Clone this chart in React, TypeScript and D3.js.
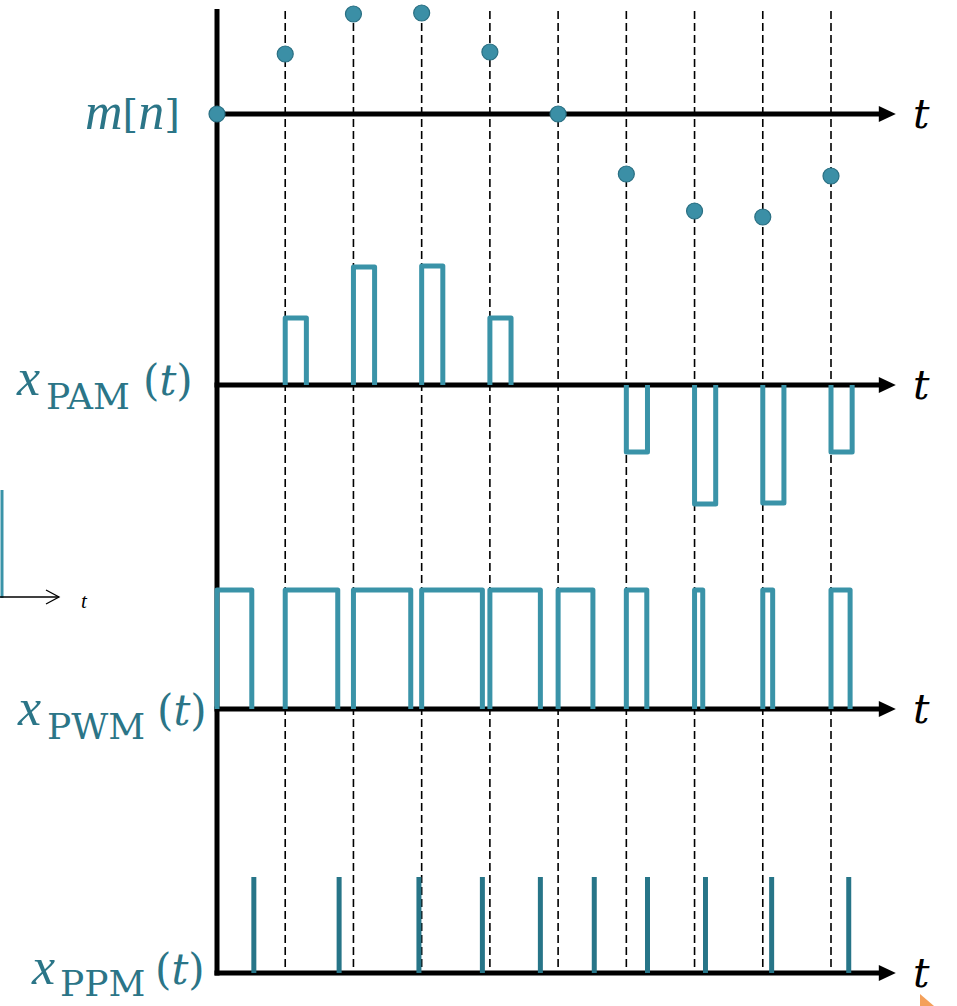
import React from 'react';
import * as d3 from 'd3';

// sample index n (one dashed line per sample)
const sampleIndex = [0, 1, 2, 3, 4, 5, 6, 7, 8, 9];
// message samples m[n]
const mValues = [0, 0.6, 1.0, 1.01, 0.62, 0, -0.6, -0.97, -1.03, -0.62];
// PAM pulse heights
const pamValues = [0, 0.67, 1.18, 1.19, 0.67, 0, -0.67, -1.19, -1.18, -0.67];
const pamWidth = 0.31;
// PWM pulse widths (in sample periods)
const pwmWidths = [0.51, 0.77, 0.84, 0.89, 0.74, 0.51, 0.3, 0.12, 0.145, 0.28];
// PPM pulse times (in sample periods)
const ppmTimes = [0.54, 1.79, 2.96, 3.89, 4.74, 5.53, 6.31, 7.16, 8.13, 9.26];

const TEAL = '#3a93a8';
const TEAL_DOT = '#3b8fa6';
const TEAL_EDGE = '#2a6f82';
const TEAL_DARK = '#277588';
const LABEL = '#2b7587';
const FONT = '"DejaVu Serif", serif';
const ITALIC = '"Liberation Serif", serif';

const W = 957;
const H = 1006;
const tMax = 9.95;

const x = d3.scaleLinear().domain([0, 9]).range([217, 831]);
const yM = d3.scaleLinear().domain([-1, 1]).range([214, 14]);
const yPAM = d3.scaleLinear().domain([-1, 1]).range([485, 285]);
const yPWM = d3.scaleLinear().domain([0, 1]).range([709, 590]);
const yPPM = d3.scaleLinear().domain([0, 1]).range([973, 877]);

const line = d3.line<[number, number]>();

const Axis: React.FC<{ y: number }> = ({ y }) => {
  const tip = x(tMax);
  return (
    <g>
      <line x1={x(0) - 2.5} x2={tip - 12} y1={y} y2={y} stroke="#000" strokeWidth={5} />
      <path d={`M${tip - 17},${y - 8} L${tip},${y} L${tip - 17},${y + 8} Z`} fill="#000" />
    </g>
  );
};

const TLabel: React.FC<{ y: number }> = ({ y }) => (
  <text x={913} y={y} fontFamily={FONT} fontStyle="italic" fontSize={41} fill="#000">t</text>
);

const SigLabel: React.FC<{ x0: number; y: number; sub: string; subX: number; parX: number; subDy?: number }> = ({ x0, y, sub, subX, parX, subDy = 14 }) => (
  <g fill={LABEL}>
    <text x={x0} y={y} fontFamily={ITALIC} fontStyle="italic" fontSize={52}>x</text>
    <text x={subX} y={y + subDy} fontFamily={FONT} fontSize={36}>{sub}</text>
    <text x={parX} y={y} fontFamily={FONT} fontSize={42}>
      (<tspan fontStyle="italic">t</tspan>)
    </text>
  </g>
);

export default function App() {
  const yAxes = [yM(0), yPAM(0), yPWM(0), yPPM(0)];

  const pamPaths = sampleIndex
    .filter(i => pamValues[i] !== 0)
    .map(i => {
      const v = pamValues[i];
      return line([
        [x(i), yPAM(0)],
        [x(i), yPAM(v)],
        [x(i + pamWidth), yPAM(v)],
        [x(i + pamWidth), yPAM(0)],
      ]) || '';
    });

  const pwmPaths = sampleIndex.map(i => {
    const w = pwmWidths[i];
    return line([
      [x(i), yPWM(0)],
      [x(i), yPWM(1)],
      [x(i + w), yPWM(1)],
      [x(i + w), yPWM(0)],
    ]) || '';
  });

  return (
    <svg width={W} height={H} style={{ position: 'absolute', left: 0, top: 0, background: '#fff' }}>
      {/* sampling instants */}
      {sampleIndex.slice(1).map(i => (
        <line key={i} x1={x(i)} x2={x(i)} y1={11} y2={968} stroke="#000" strokeWidth={1.6} strokeDasharray="8 4" />
      ))}

      {/* axes */}
      <line x1={x(0)} x2={x(0)} y1={9} y2={yPPM(0) + 2.5} stroke="#000" strokeWidth={5} />
      {yAxes.map((y, k) => <Axis key={k} y={y} />)}

      {/* PAM */}
      {pamPaths.map((d, k) => (
        <path key={k} d={d} fill="none" stroke={TEAL} strokeWidth={5} strokeLinejoin="round" />
      ))}

      {/* PWM */}
      {pwmPaths.map((d, k) => (
        <path key={k} d={d} fill="none" stroke={TEAL} strokeWidth={5} strokeLinejoin="round" />
      ))}

      {/* PPM */}
      {ppmTimes.map((t, k) => (
        <line key={k} x1={x(t)} x2={x(t)} y1={yPPM(0)} y2={yPPM(1)} stroke={TEAL_DARK} strokeWidth={5} />
      ))}

      {/* m[n] samples */}
      {sampleIndex.map(i => (
        <circle key={i} cx={x(i)} cy={yM(mValues[i])} r={8} fill={TEAL_DOT} stroke={TEAL_EDGE} strokeWidth={1.2} />
      ))}

      {/* labels */}
      <text x={85} y={129} fontFamily={ITALIC} fontSize={52} fill={LABEL}>
        <tspan fontStyle="italic">m</tspan><tspan fontFamily={FONT} fontSize={40} dy={-2}>[</tspan><tspan fontStyle="italic" dy={2}>n</tspan><tspan fontFamily={FONT} fontSize={40} dy={-2}>]</tspan>
      </text>
      <SigLabel x0={17} y={395} sub="PAM" subX={46} parX={143} />
      <SigLabel x0={18} y={725} sub="PWM" subX={47} parX={157} />
      <SigLabel x0={32} y={984} sub="PPM" subX={60} parX={155} subDy={12} />

      {yAxes.map((y, k) => <TLabel key={k} y={y + 14} />)}

      {/* fragment of a neighbouring figure at the left edge */}
      <line x1={2} x2={2} y1={490} y2={598} stroke={TEAL} strokeWidth={3} />
      <line x1={0} x2={59} y1={597} y2={597} stroke="#000" strokeWidth={1.3} />
      <polyline points="46,590 59,597 46,604" fill="none" stroke="#000" strokeWidth={1.3} />
      <text x={81} y={608} fontFamily={ITALIC} fontStyle="italic" fontSize={21} fill="#000">t</text>

      {/* cursor mark */}
      <polygon points="920,994 934,1006 920,1006" fill="#f4a05a" />
    </svg>
  );
}
